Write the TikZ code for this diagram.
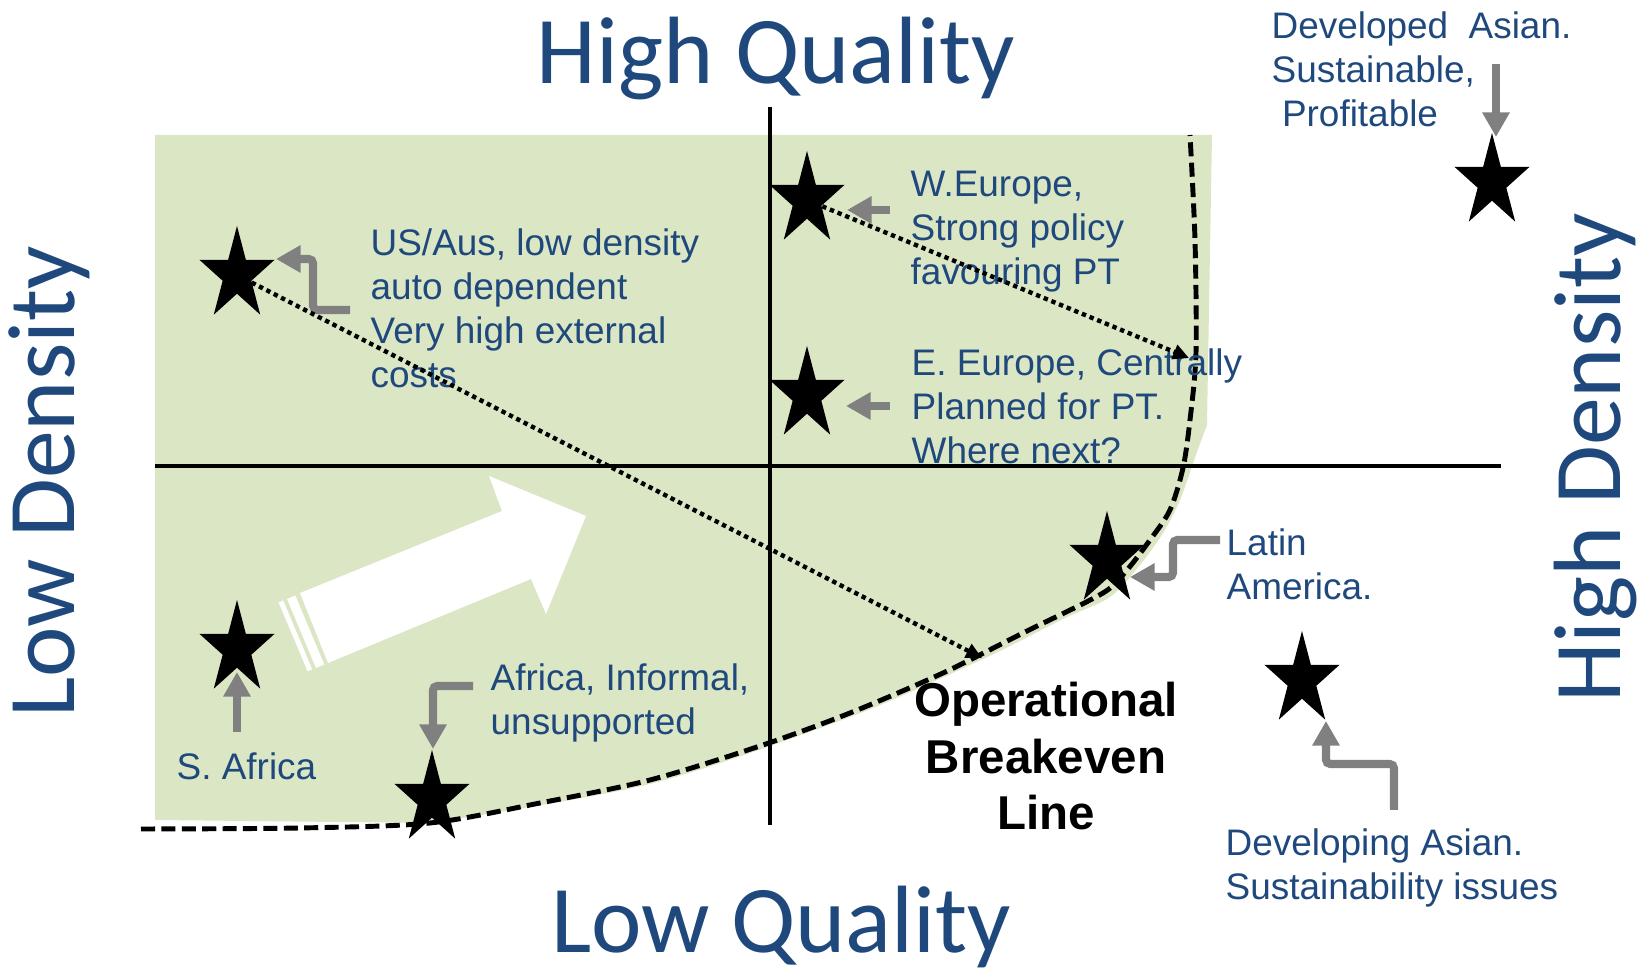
\documentclass[tikz,border=0pt]{standalone}
\usepackage{fontspec}
\setmainfont{Liberation Sans}
\newfontfamily\titlefont{Carlito}
\usetikzlibrary{arrows.meta,shapes.geometric,calc}
\definecolor{labelblue}{RGB}{31,73,125}
\definecolor{zonegreen}{RGB}{219,230,197}
\definecolor{pointergray}{RGB}{128,128,128}
\begin{document}
\begin{tikzpicture}[x=0.01cm,y=-0.01cm,
  axisline/.style={line width=1.15pt},
  breakeven/.style={line width=1.4pt, dash pattern=on 4pt off 1.8pt},
  trendarrow/.style={line width=1.25pt, dash pattern=on 1.25pt off 1.1pt,
    -{Triangle[length=4.5pt,width=4.2pt]}},
  greyarrow/.style={draw=pointergray, line width=2.3pt, rounded corners=1.2pt,
    -{Triangle[length=7pt,width=7.4pt]}},
  citystar/.style={star, star points=5, star point ratio=2.618, fill=black,
    draw=none, inner sep=0pt, minimum size=0.98cm, transform shape, xscale=0.805},
  citytext/.style={text=labelblue, font=\fontsize{10.5}{12.6}\selectfont,
    align=left, anchor=base west, inner sep=0pt},
  axistitle/.style={text=labelblue, font=\titlefont\fontsize{27.2}{32}\selectfont,
    inner sep=0pt, anchor=base}
]
\useasboundingbox (0,0) rectangle (1638,971);

% shaded region below the breakeven line
\fill[zonegreen] (155,135) -- (1212,135) --
  plot[smooth, tension=0.5] coordinates {(1207,425) (1197,452) (1180,500)
    (1163,533) (1140,565) (1110,597) (1063,619) (983,659) (850,717)
    (650,784) (430,823)}
  -- (155,820) -- cycle;

% big white direction arrow with striped tail
\fill[white] (300,593) -- (502,511) -- (489,476) -- (586,516) -- (546,614)
  -- (531,579) -- (328,663) -- cycle;
\fill[white] (295.3,595.5) -- (324.3,664.5) -- (316,668) -- (287,599) -- cycle;
\fill[white] (283.2,600.4) -- (312.2,669.4) -- (307.6,671.3) -- (278.6,602.3) -- cycle;

% axes
\draw[axisline] (770,107) -- (770,825);
\draw[axisline] (155,466) -- (1501,466);

% operational breakeven line
\draw[breakeven] plot[smooth, tension=0.5] coordinates {(141,829) (300,828)
  (430,823) (540,803) (650,780) (760,746) (850,713) (943,673) (1023,633)
  (1103,593) (1127,570) (1150,540) (1170,510) (1183,468) (1190,420)
  (1196,353) (1195,240) (1190,135)};

% axis titles
\node[axistitle] (hq) at (776,84) {High Quality};
\node[axistitle] (lq) at (781,953) {Low Quality};
\node[axistitle, rotate=90] (ld) at (74,482) {Low Density};
\node[axistitle, rotate=90] (hd) at (1620,458) {High Density};

% city type descriptions (placed by the baseline of their last line)
\node[citytext] (ustext) at (370,388) {US/Aus, low density\\auto dependent\\Very high external\\costs};
\node[citytext] (wetext) at (910,285) {W.Europe,\\Strong policy\\favouring PT};
\node[citytext] (eetext) at (911,464) {E. Europe, Centrally\\Planned for PT.\\Where next?};
\node[citytext] (latext) at (1226,600) {Latin\\America.};
\node[citytext] (aftext) at (490,735) {Africa, Informal,\\unsupported};
\node[citytext] (satext) at (176,780) {S. Africa};
\node[citytext] (dgtext) at (1225,900) {Developing Asian.\\Sustainability issues};
\node[citytext] (dvtext) at (1271,127) {Developed\ \ Asian.\\Sustainable,\\\hspace*{0.28em}Profitable};

\node[font=\bfseries\fontsize{13.5}{16.2}\selectfont, align=center, anchor=base,
  inner sep=0pt] (obl) at (1046,830) {Operational\\Breakeven\\Line};

% city markers
\node[citystar] (usstar) at (237,275) {};
\node[citystar] (westar) at (807,200) {};
\node[citystar] (eestar) at (807,395) {};
\node[citystar] (sastar) at (237,649) {};
\node[citystar] (afstar) at (432,799) {};
\node[citystar] (lastar) at (1107,560) {};
\node[citystar] (dgstar) at (1302,680) {};
\node[citystar] (dvstar) at (1492,182) {};

% pointer tails beside the descriptions
\coordinate (ustail) at (350,310);
\coordinate (wetail) at (890,210);
\coordinate (eetail) at (890,406);
\coordinate (satail) at (237,732);
\coordinate (aftail) at (473,686);
\coordinate (latail) at (1220,540);
\coordinate (dgtail) at (1394,810);
\coordinate (dvtail) at (1496,64);

\draw[greyarrow] (ustail) -- ++(-37,0) |- ($(usstar)+(39,-16)$);
\draw[greyarrow] (wetail) -- ($(westar)+(40,10)$);
\draw[greyarrow] (eetail) -- ($(eestar)+(39,11)$);
\draw[greyarrow] (satail) -- ($(sastar)+(0,23)$);
\draw[greyarrow] (aftail) -| ($(afstar)+(1,-50)$);
\draw[greyarrow] (latail) -- ++(-47,0) |- ($(lastar)+(23,17)$);
\draw[greyarrow] (dgtail) -- ++(0,-46) -| ($(dgstar)+(24,41)$);
\draw[greyarrow] (dvtail) -- ($(dvstar)+(4,-45)$);

% development trajectories towards the breakeven line
\coordinate (usreach) at (982,658);
\coordinate (wereach) at (1189,358);
\draw[trendarrow] (usstar.center) -- (usreach);
\draw[trendarrow] (westar.center) -- (wereach);

\end{tikzpicture}
\end{document}
